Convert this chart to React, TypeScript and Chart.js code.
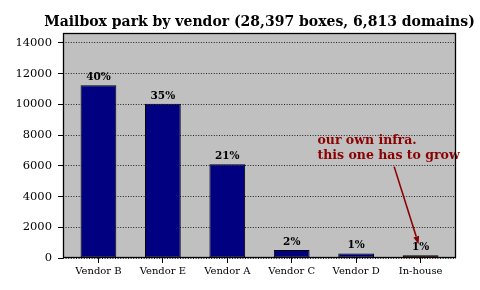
import { useEffect, useRef } from 'react';
import { Chart, registerables } from 'chart.js';

Chart.register(...registerables);

const TITLE = 'Mailbox park by vendor (28,397 boxes, 6,813 domains)';
const categories = ['Vendor B', 'Vendor E', 'Vendor A', 'Vendor C', 'Vendor D', 'In-house'];
const boxes = [11250, 10050, 6100, 520, 300, 177];
const barColors = ['#000080', '#000080', '#000080', '#000080', '#000080', '#800000'];
const yTicks = [0, 2000, 4000, 6000, 8000, 10000, 12000, 14000];
const annotationLines = ['our own infra.', 'this one has to grow'];
// annotation anchors in data coordinates (category index, boxes)
const annotationAt = { x: 3.4, y: 7450 };
const arrowFrom = { x: 4.59, y: 5950 };
const arrowTo = { x: 4.97, y: 900 };

const SERIF = '"DejaVu Serif", serif';

export default function App() {
  const ref = useRef<HTMLCanvasElement | null>(null);

  useEffect(() => {
    document.body.style.margin = '0';
    const canvas = ref.current;
    if (!canvas) return;
    const total = boxes.reduce((a, b) => a + b, 0);

    const plugin = {
      id: 'mplStyle',
      beforeDraw(chart: any) {
        const { ctx, chartArea: a } = chart;
        ctx.save();
        ctx.fillStyle = '#c0c0c0';
        ctx.fillRect(a.left, a.top, a.right - a.left, a.bottom - a.top);
        ctx.restore();
      },
      afterDraw(chart: any) {
        const { ctx, chartArea: a, scales } = chart;
        const meta = chart.getDatasetMeta(0);
        ctx.save();
        // title
        ctx.font = `bold 14px ${SERIF}`;
        ctx.fillStyle = '#000';
        ctx.textAlign = 'center';
        ctx.textBaseline = 'alphabetic';
        ctx.fillText(TITLE, (a.left + a.right) / 2, a.top - 7.5);
        // percentage labels
        ctx.font = `bold 10.5px ${SERIF}`;
        meta.data.forEach((bar: any, i: number) => {
          const pct = Math.round((boxes[i] / total) * 100) + '%';
          ctx.fillText(pct, bar.x, bar.y - 5);
        });
        // annotation text
        const tx = scales.x.getPixelForValue(annotationAt.x);
        const ty = scales.y.getPixelForValue(annotationAt.y);
        ctx.font = `bold 12.5px ${SERIF}`;
        ctx.fillStyle = '#8b0000';
        ctx.textAlign = 'left';
        annotationLines.forEach((line, i) => ctx.fillText(line, tx, ty + i * 15));
        // arrow
        const x1 = scales.x.getPixelForValue(arrowFrom.x);
        const y1 = scales.y.getPixelForValue(arrowFrom.y);
        const x2 = scales.x.getPixelForValue(arrowTo.x);
        const y2 = scales.y.getPixelForValue(arrowTo.y);
        const ang = Math.atan2(y2 - y1, x2 - x1);
        const headLen = 8;
        const headW = 3;
        const bx = x2 - headLen * Math.cos(ang);
        const by = y2 - headLen * Math.sin(ang);
        ctx.strokeStyle = '#8b0000';
        ctx.lineWidth = 1.6;
        ctx.beginPath();
        ctx.moveTo(x1, y1);
        ctx.lineTo(bx, by);
        ctx.stroke();
        ctx.beginPath();
        ctx.moveTo(x2, y2);
        ctx.lineTo(bx + headW * Math.sin(ang), by - headW * Math.cos(ang));
        ctx.lineTo(bx - headW * Math.sin(ang), by + headW * Math.cos(ang));
        ctx.closePath();
        ctx.fillStyle = '#8b0000';
        ctx.fill();
        // frame
        ctx.strokeStyle = '#000';
        ctx.lineWidth = 1.3;
        const l = Math.round(a.left) + 0.5;
        const t = Math.round(a.top) + 0.5;
        const r = Math.round(a.right) - 0.5;
        const b = Math.round(a.bottom) - 0.5;
        ctx.strokeRect(l, t, r - l, b - t);
        ctx.restore();
      },
    };

    const chart = new Chart(canvas, {
      type: 'bar',
      data: {
        datasets: [
          {
            data: boxes.map((v, i) => ({ x: i, y: v })),
            backgroundColor: barColors,
            borderColor: '#000',
            borderWidth: 1,
            borderSkipped: false,
            barPercentage: 0.555,
            categoryPercentage: 1,
          },
        ],
      },
      options: {
        responsive: false,
        animation: false,
        layout: { padding: { left: 0, right: 24, top: 33, bottom: 0 } },
        plugins: {
          legend: { display: false },
          tooltip: { enabled: false },
          title: { display: false },
        },
        scales: {
          x: {
            type: 'linear',
            offset: false,
            min: -0.55,
            max: 5.55,
            afterBuildTicks: (s: any) => {
              s.ticks = categories.map((_, i) => ({ value: i }));
            },
            afterFit: (s: any) => {
              s.height = 32;
            },
            grid: {
              offset: false,
              drawOnChartArea: false,
              drawTicks: true,
              tickLength: 5,
              tickColor: '#000',
              tickWidth: 1,
            },
            border: { display: false },
            ticks: {
              autoSkip: false,
              maxRotation: 0,
              padding: 2,
              color: '#000',
              font: { family: SERIF, size: 10 },
              callback: (v: any) => categories[v] ?? '',
            },
          },
          y: {
            min: 0,
            max: 14650,
            afterBuildTicks: (s: any) => {
              s.ticks = yTicks.map((v) => ({ value: v }));
            },
            afterFit: (s: any) => {
              s.width = 63;
            },
            grid: {
              color: '#111',
              lineWidth: 0.9,
              tickLength: 5,
              tickColor: '#000',
              tickWidth: 1,
            },
            border: { display: false, dash: [1, 1.6] },
            ticks: {
              padding: 6,
              color: '#000',
              font: { family: SERIF, size: 11.5 },
              callback: (v: any) => String(v),
            },
          },
        },
      },
      plugins: [plugin],
    } as any);

    return () => chart.destroy();
  }, []);

  return (
    <div style={{ position: 'absolute', left: 0, top: 0, width: 480, height: 290 }}>
      <canvas ref={ref} width={480} height={290} />
    </div>
  );
}
